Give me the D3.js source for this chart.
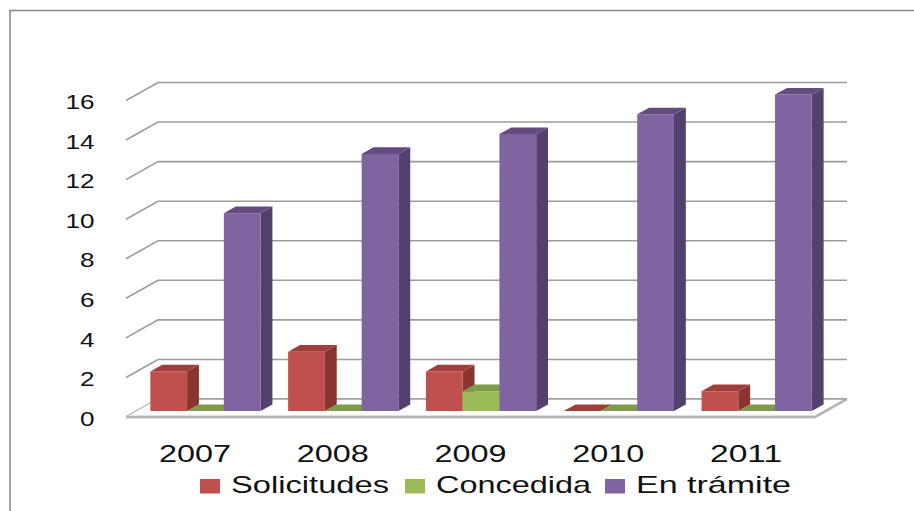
<!DOCTYPE html>
<html>
<head>
<meta charset="utf-8">
<script src="https://cdn.jsdelivr.net/npm/d3@7"></script>
<style>
  html, body { margin: 0; padding: 0; background: #fff; }
  svg { display: block; }
  text { font-family: "Liberation Sans", Arial, sans-serif; fill: #111; }
</style>
</head>
<body>
<svg id="chart" width="914" height="511"></svg>
<script>
// ---- data ----
const categories = ["2007", "2008", "2009", "2010", "2011"];
const seriesNames = ["Solicitudes", "Concedida", "En trámite"];
const solicitudes = [2, 3, 2, 0, 1];
const concedida = [0, 0, 1, 0, 0];
const enTramite = [10, 13, 14, 15, 16];
const yTicks = [0, 2, 4, 6, 8, 10, 12, 14, 16];

const seriesValues = [solicitudes, concedida, enTramite];
const frontColors = ["#C0504D", "#9BBB59", "#8064A2"];
const sideColors = ["#8A3431", "#71893F", "#54406C"];
const topColors = ["#A03E3B", "#7F9A48", "#634D80"];

// ---- geometry ----
const svg = d3.select("#chart");
const DX = 32, DY = 18;       // depth offset (front -> back)
const tf = 0.33, tb = 0.70;   // bar depth (fraction of floor depth)

const y = d3.scaleLinear().domain([0, 16]).range([417, 100.5]);
const x = d3.scaleBand().domain(categories).range([126, 815]).padding(0);
const xs = d3.scaleBand().domain(seriesNames).range([0, x.bandwidth()])
  .paddingInner(0).paddingOuter(0.375);

const P = (xf, v, t) => [xf + DX * t, y(v) - DY * t];
const poly = pts => pts.map(p => p.join(",")).join(" ");

// border
svg.append("rect").attr("x", 10).attr("y", 10.5).attr("width", 1000).attr("height", 1000)
  .attr("fill", "none").attr("stroke", "#8c8c8c").attr("stroke-width", 1.6);

// gridlines: back wall + left wall diagonals
const grid = svg.append("g");
yTicks.forEach(v => {
  const a = P(x.range()[0], v, 0), b = P(x.range()[0], v, 1), c = P(x.range()[1], v, 1);
  grid.append("polyline").attr("points", poly([a, b, c]))
    .attr("fill", "none").attr("stroke", "#9c9c9c").attr("stroke-width", 1.6);
});

// floor
const floorPts = [P(126, 0, 0), P(815, 0, 0), P(815, 0, 1), P(126, 0, 1)];
svg.append("polygon").attr("points", poly(floorPts)).attr("fill", "#fff").attr("stroke", "none");
svg.append("polyline").attr("points", poly([P(126, 0, 0), P(815, 0, 0), P(815, 0, 1)]))
  .attr("fill", "none").attr("stroke", "#c4c4c4").attr("stroke-width", 3);
svg.append("polyline").attr("points", poly([P(126, 0, 0), P(815, 0, 0), P(815, 0, 1)]))
  .attr("fill", "none").attr("stroke", "#a8a8a8").attr("stroke-width", 1);
svg.append("polyline").attr("points", poly([P(126, 0, 1), P(815, 0, 1)]))
  .attr("fill", "none").attr("stroke", "#9c9c9c").attr("stroke-width", 1.6);

// bars
const bars = svg.append("g");
categories.forEach((cat, i) => {
  seriesNames.forEach((s, j) => {
    const v = seriesValues[j][i];
    const x0 = x(cat) + xs(s), x1 = x0 + xs.bandwidth();
    if (v > 0) {
      bars.append("polygon")
        .attr("points", poly([P(x1, 0, tf), P(x1, 0, tb), P(x1, v, tb), P(x1, v, tf)]))
        .attr("fill", sideColors[j]);
      bars.append("polygon")
        .attr("points", poly([P(x0, 0, tf), P(x1, 0, tf), P(x1, v, tf), P(x0, v, tf)]))
        .attr("fill", frontColors[j]);
    }
    bars.append("polygon")
      .attr("points", poly([P(x0, v, tf), P(x1, v, tf), P(x1, v, tb), P(x0, v, tb)]))
      .attr("fill", topColors[j]);
  });
});

// y axis labels (front plane)
const yAxis = d3.axisLeft(y).tickValues(yTicks).tickSize(0).tickPadding(0).tickFormat(d3.format("d"));
const gy = svg.append("g").attr("transform", "translate(94.5,1.5)").call(yAxis);
gy.select(".domain").remove();
gy.selectAll("text")
  .attr("font-family", "Liberation Sans, Arial, sans-serif")
  .attr("font-size", 21).attr("fill", "#111")
  .attr("textLength", d => String(d).length * 14.5)
  .attr("lengthAdjust", "spacingAndGlyphs");

// x axis labels
const xAxis = d3.axisBottom(x).tickSize(0).tickPadding(0);
const gx = svg.append("g").attr("transform", "translate(0,461.5)").call(xAxis);
gx.select(".domain").remove();
gx.selectAll("text")
  .attr("y", 0).attr("dy", 0)
  .attr("font-family", "Liberation Sans, Arial, sans-serif")
  .attr("font-size", 23).attr("fill", "#111")
  .attr("textLength", 72).attr("lengthAdjust", "spacingAndGlyphs");

// legend
const legendX = [200, 405, 605];
const legendTextW = [158, 155, 155];
const lg = svg.append("g");
seriesNames.forEach((s, j) => {
  lg.append("rect").attr("x", legendX[j]).attr("y", 479).attr("width", 20).attr("height", 14.5)
    .attr("fill", frontColors[j]);
  lg.append("text").attr("x", legendX[j] + 31).attr("y", 493)
    .attr("font-size", 24).attr("textLength", legendTextW[j])
    .attr("lengthAdjust", "spacingAndGlyphs").text(s);
});
</script>
</body>
</html>
